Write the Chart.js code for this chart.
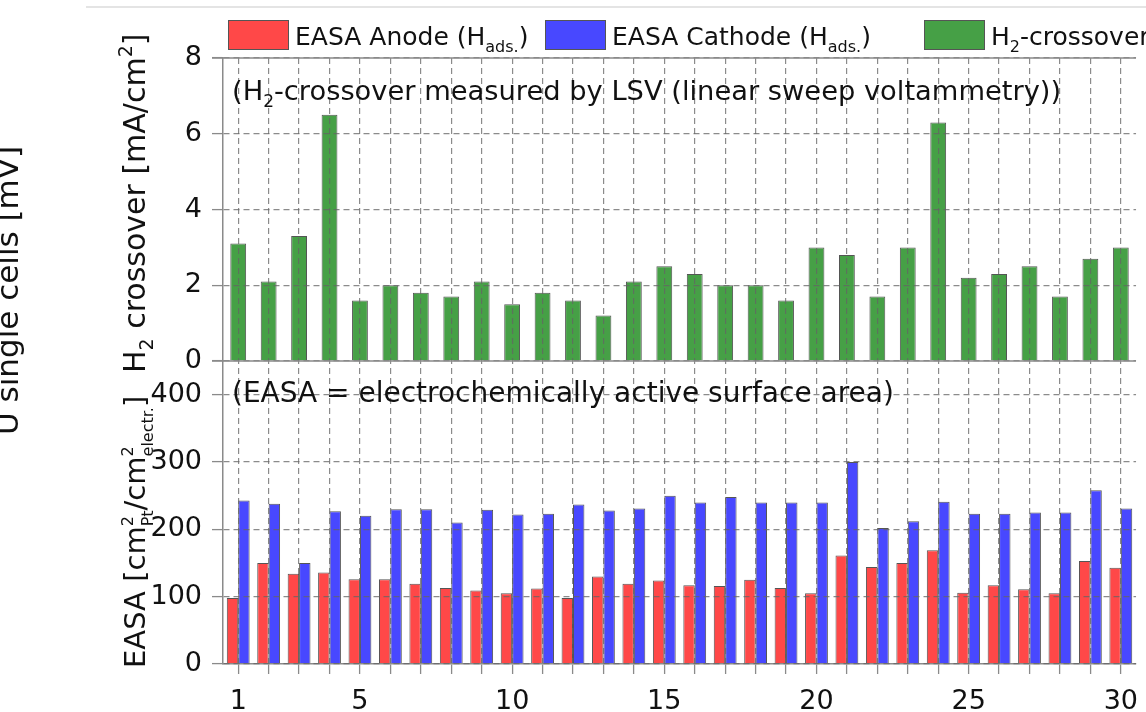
<!DOCTYPE html>
<html>
<head>
<meta charset="utf-8">
<script src="https://cdn.jsdelivr.net/npm/chart.js@4.4.1/dist/chart.umd.min.js"></script>
<style>
html, body { margin: 0; padding: 0; background: #fff; overflow: hidden; }
#wrap { width: 1150px; height: 712px; }
</style>
</head>
<body>
<div id="wrap"><canvas id="easa-chart" width="1150" height="712"></canvas></div>
<script>
// single cell numbers
const cells = ['1','2','3','4','5','6','7','8','9','10','11','12','13','14','15',
               '16','17','18','19','20','21','22','23','24','25','26','27','28','29','30'];
// H2 crossover [mA/cm2]
const h2Crossover = [3.1, 2.1, 3.3, 6.5, 1.6, 2.0, 1.8, 1.7, 2.1, 1.5, 1.8, 1.6, 1.2, 2.1, 2.5,
                     2.3, 2.0, 2.0, 1.6, 3.0, 2.8, 1.7, 3.0, 6.3, 2.2, 2.3, 2.5, 1.7, 2.7, 3.0];
// EASA [cm2 Pt / cm2 electr.]
const easaAnode = [98, 150, 134, 136, 126, 126, 119, 113, 109, 105, 112, 98, 130, 119, 124,
                   117, 116, 125, 113, 105, 161, 144, 150, 169, 106, 117, 111, 105, 153, 143];
const easaCathode = [243, 238, 150, 227, 220, 230, 230, 210, 229, 222, 223, 237, 228, 231, 250,
                     240, 248, 240, 240, 240, 300, 202, 212, 241, 223, 223, 225, 225, 258, 231];
const xTickLabels = ['1', '5', '10', '15', '20', '25', '30'];
const h2TickLabels = [0, 2, 4, 6, 8];
const easaTickLabels = [0, 100, 200, 300, 400];

const FONT = '"DejaVu Sans", sans-serif';
const gridColor = 'rgba(100,100,100,0.75)';
const axisColor = '#8a8a8a';

function setFont(ctx, px) { ctx.font = px + 'px ' + FONT; }

// text with sub/superscripts; parts are strings or {sup, sub}
function drawRich(ctx, parts, x, y, size, angle, small) {
    ctx.save();
    ctx.translate(x, y);
    ctx.rotate(angle || 0);
    ctx.textAlign = 'left';
    ctx.textBaseline = 'alphabetic';
    ctx.fillStyle = '#111';
    let cx = 0;
    for (const p of parts) {
        if (typeof p === 'string') {
            setFont(ctx, size);
            ctx.fillText(p, cx, 0);
            cx += ctx.measureText(p).width;
            continue;
        }
        const s = Math.round(size * (small || 0.64));
        setFont(ctx, s);
        let w = 0;
        if (p.sup) { ctx.fillText(p.sup, cx, -size * 0.42); w = Math.max(w, ctx.measureText(p.sup).width); }
        if (p.sub) { ctx.fillText(p.sub, cx, size * 0.27); w = Math.max(w, ctx.measureText(p.sub).width); }
        cx += w;
    }
    ctx.restore();
}

const legendItems = [
    { dataset: 0, dx: 5,   parts: ['EASA Anode (H', {sub: 'ads.'}, ')'] },
    { dataset: 1, dx: 322, parts: ['EASA Cathode (H', {sub: 'ads.'}, ')'] },
    { dataset: 2, dx: 701, parts: ['H', {sub: '2'}, '-crossover'] }
];

const decorPlugin = {
    id: 'decor',
    afterDraw(chart) {
        const ctx = chart.ctx;
        const area = chart.chartArea;
        const yTop = chart.scales.yTop;

        ctx.save();
        // frame line of the panel above (cropped)
        ctx.strokeStyle = '#e4e4e4';
        ctx.lineWidth = 2;
        ctx.beginPath();
        ctx.moveTo(86, 7); ctx.lineTo(chart.width, 7);
        ctx.stroke();

        // solid panel lines
        ctx.strokeStyle = axisColor;
        ctx.lineWidth = 1.5;
        [yTop.getPixelForValue(8), yTop.getPixelForValue(0)].forEach(function (py) {
            ctx.beginPath();
            ctx.moveTo(area.left - 11, py); ctx.lineTo(area.right, py);
            ctx.stroke();
        });

        // legend
        legendItems.forEach(function (item) {
            const ds = chart.data.datasets[item.dataset];
            const bx = area.left + item.dx;
            ctx.fillStyle = ds.backgroundColor;
            ctx.strokeStyle = '#555';
            ctx.lineWidth = 1;
            ctx.fillRect(bx, 20, 61, 30);
            ctx.strokeRect(bx + 0.5, 20.5, 60, 29);
            drawRich(ctx, item.parts, bx + 67, 45, 25);
        });
        ctx.restore();

        // notes inside the panels
        drawRich(ctx, ['(H', {sub: '2'}, '-crossover measured by LSV (linear sweep voltammetry))'],
                 area.left + 9, area.top + 42, 27.3);
        drawRich(ctx, ['(EASA = electrochemically active surface area)'],
                 area.left + 9, area.top + 344, 28);

        // axis titles
        drawRich(ctx, ['H', {sub: '2'}, ' crossover [mA/cm', {sup: '2'}, ']'],
                 145, 373, 30, -Math.PI / 2);
        drawRich(ctx, ['EASA [cm', {sup: '2', sub: 'Pt'}, '/cm', {sup: '2', sub: 'electr.'}, ']'],
                 145, 668, 29, -Math.PI / 2, 0.56);
        drawRich(ctx, ['U single cells [mV]'], 18, 435, 31, -Math.PI / 2);
    }
};

const yAxisWidth = function (scale) { scale.width = 223; };

new Chart(document.getElementById('easa-chart').getContext('2d'), {
    type: 'bar',
    data: {
        labels: cells,
        datasets: [{
            label: 'EASA Anode (Hads.)',
            data: easaAnode,
            yAxisID: 'yBot',
            backgroundColor: '#ff4848',
            borderColor: '#555',
            borderWidth: 1,
            categoryPercentage: 0.75,
            barPercentage: 1.0
        }, {
            label: 'EASA Cathode (Hads.)',
            data: easaCathode,
            yAxisID: 'yBot',
            backgroundColor: '#4848ff',
            borderColor: '#555',
            borderWidth: 1,
            categoryPercentage: 0.75,
            barPercentage: 1.0
        }, {
            label: 'H2-crossover',
            data: h2Crossover,
            yAxisID: 'yTop',
            grouped: false,
            backgroundColor: '#46a046',
            borderColor: '#555',
            borderWidth: 1,
            categoryPercentage: 1.0,
            barPercentage: 0.52
        }]
    },
    options: {
        responsive: false,
        animation: false,
        devicePixelRatio: 1,
        layout: { padding: { top: 58, left: 0, right: 0, bottom: 0 } },
        plugins: { legend: { display: false }, tooltip: { enabled: false } },
        scales: {
            x: {
                type: 'category',
                offset: true,
                afterFit: function (scale) { scale.height = 48; },
                grid: {
                    offset: false, z: 1, color: gridColor, lineWidth: 1.2,
                    tickLength: 10, tickColor: axisColor, tickWidth: 1.3
                },
                border: { z: 1, color: axisColor, width: 1.5, dash: [6, 4] },
                ticks: {
                    autoSkip: false, maxRotation: 0, padding: 12, color: '#111',
                    font: { family: FONT, size: 27 },
                    callback: function (v, i) {
                        const l = cells[i];
                        return xTickLabels.indexOf(l) >= 0 ? l : '';
                    }
                }
            },
            yBot: {
                type: 'linear',
                position: 'left',
                stack: 'panels',
                stackWeight: 1,
                min: 0, max: 450,
                afterFit: yAxisWidth,
                grid: {
                    z: 1, color: gridColor, lineWidth: 1.2,
                    tickLength: 11, tickColor: axisColor, tickWidth: 1.3
                },
                border: { z: 1, color: axisColor, width: 1.5, dash: [6, 4] },
                ticks: {
                    stepSize: 50, padding: 10, color: '#111',
                    font: { family: FONT, size: 27 },
                    callback: function (v) { return easaTickLabels.indexOf(v) >= 0 ? String(v) : ''; }
                }
            },
            yTop: {
                type: 'linear',
                position: 'left',
                stack: 'panels',
                stackWeight: 1,
                min: 0, max: 8,
                afterFit: yAxisWidth,
                grid: {
                    z: 1, color: gridColor, lineWidth: 1.2,
                    tickLength: 11, tickColor: axisColor, tickWidth: 1.3
                },
                border: { z: 1, color: axisColor, width: 1.5, dash: [6, 4] },
                ticks: {
                    stepSize: 1, padding: 10, color: '#111',
                    font: { family: FONT, size: 27 },
                    callback: function (v) { return h2TickLabels.indexOf(v) >= 0 ? String(v) : ''; }
                }
            }
        }
    },
    plugins: [decorPlugin]
});
</script>
</body>
</html>
